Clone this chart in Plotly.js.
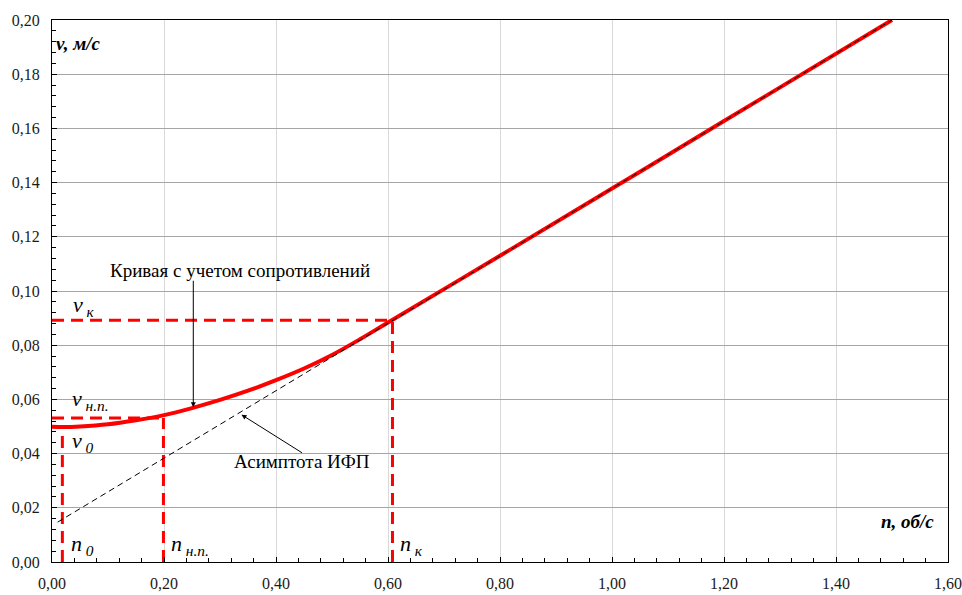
<!DOCTYPE html>
<html>
<head>
<meta charset="utf-8">
<script src="https://cdn.plot.ly/plotly-3.0.1.min.js"></script>
<style>
  html, body { margin: 0; padding: 0; background: #fff; }
  #chart { width: 962px; height: 595px; }
</style>
</head>
<body>
<div id="chart"></div>
<script>
// Curve accounting for resistances
const curveN = [0.00, 0.02, 0.05, 0.10, 0.15, 0.20, 0.25, 0.30, 0.35, 0.40, 0.45, 0.50, 0.55, 0.60, 0.80, 1.00, 1.20, 1.50];
const curveV = [0.0499, 0.0498, 0.0500, 0.0508, 0.0523, 0.0542, 0.0568, 0.0598, 0.0632, 0.0671, 0.0714, 0.0764, 0.0822, 0.0884, 0.1130, 0.1378, 0.1627, 0.2000];

// Asymptote (IFP)
const asymN = [0.010, 1.500];
const asymV = [0.0147, 0.2000];

// Characteristic points
const n0 = 0.0185, v0 = 0.0497;
const nNP = 0.199, vNP = 0.0531;
const nK = 0.608, vK = 0.0892;

// Axis ticks
const xTicks = [0, 0.2, 0.4, 0.6, 0.8, 1.0, 1.2, 1.4, 1.6];
const yTicks = [0, 0.02, 0.04, 0.06, 0.08, 0.10, 0.12, 0.14, 0.16, 0.18, 0.20];

const FONT = 'Liberation Serif';
const RED = '#ff0000';
const guide = { color: RED, width: 3, dash: '12px,7px' };

const traces = [
  { x: [n0, n0], y: [0, v0], mode: 'lines', line: guide, hoverinfo: 'skip' },
  { x: [nNP, nNP], y: [0, vNP], mode: 'lines', line: guide, hoverinfo: 'skip' },
  { x: [0, nNP], y: [vNP, vNP], mode: 'lines', line: guide, hoverinfo: 'skip' },
  { x: [nK, nK], y: [0, vK], mode: 'lines', line: guide, hoverinfo: 'skip' },
  { x: [0, nK], y: [vK, vK], mode: 'lines', line: guide, hoverinfo: 'skip' },
  { x: curveN, y: curveV, mode: 'lines', line: { color: RED, width: 4, shape: 'spline', smoothing: 1 } },
  { x: asymN, y: asymV, mode: 'lines', line: { color: '#000', width: 1, dash: '6px,4px' } }
];

function lbl(x, y, text, opts) {
  return Object.assign({
    x: x, y: y, xref: 'x', yref: 'y', text: text, showarrow: false,
    xanchor: 'left', yanchor: 'middle', borderpad: 0,
    font: { family: FONT, size: 22, color: '#000', style: 'italic' }
  }, opts || {});
}

const annotations = [
  lbl(0.3357, 0.1075, 'Кривая с учетом сопротивлений', { xanchor: 'center', font: { family: FONT, size: 19, color: '#000' } }),
  { x: 0.2523, y: 0.0571, xref: 'x', yref: 'y', text: '', showarrow: true, ax: 0, ay: -128,
    arrowhead: 2, arrowsize: 1, arrowwidth: 1, arrowcolor: '#000', standoff: 0 },
  lbl(0.4473, 0.0370, 'Асимптота ИФП', { xanchor: 'center', font: { family: FONT, size: 19, color: '#000' } }),
  { x: 0.3384, y: 0.05435, xref: 'x', yref: 'y', text: '', showarrow: true, ax: 62, ay: 39,
    arrowhead: 2, arrowsize: 1, arrowwidth: 1, arrowcolor: '#000', standoff: 0 },
  lbl(0.036, 0.0945, 'v<sub> к</sub>'),
  lbl(0.034, 0.0598, 'v<sub> н.п.</sub>'),
  lbl(0.034, 0.0444, 'v<sub> 0</sub>'),
  lbl(0.032, 0.0063, 'n<sub> 0</sub>'),
  lbl(0.211, 0.0063, 'n<sub> н.п.</sub>'),
  lbl(0.619, 0.0063, 'n<sub> к</sub>'),
  lbl(0.0054, 0.1914, '<b>v, м/с</b>', { font: { family: FONT, size: 19, color: '#000', style: 'italic' } }),
  lbl(1.5768, 0.0149, '<b>n, об/с</b>', { xanchor: 'right', font: { family: FONT, size: 19, color: '#000', style: 'italic' } })
];

const layout = {
  width: 962, height: 595, autosize: false,
  margin: { l: 52, r: 14, t: 20, b: 33, pad: 0 },
  paper_bgcolor: '#fff', plot_bgcolor: '#fff',
  showlegend: false,
  separators: ', ',
  font: { family: FONT, size: 16, color: '#1a1a1a' },
  xaxis: {
    range: [0, 1.6], tickvals: xTicks, tickformat: '.2f',
    showgrid: true, gridcolor: '#d9d9d9', gridwidth: 1,
    showline: true, linecolor: '#000', linewidth: 1, mirror: true,
    zeroline: false, ticks: 'inside', ticklen: 5, tickcolor: '#000',
    ticklabelstandoff: 7,
    tickfont: { family: FONT, size: 16, color: '#1a1a1a' },
    minor: { dtick: 0.04, ticks: 'inside', ticklen: 4, tickcolor: '#000', showgrid: false },
    fixedrange: true
  },
  yaxis: {
    range: [0, 0.2], tickvals: yTicks, tickformat: '.2f',
    showgrid: true, gridcolor: '#a6a6a6', gridwidth: 1,
    showline: true, linecolor: '#000', linewidth: 1, mirror: true,
    zeroline: false, ticks: 'inside', ticklen: 5, tickcolor: '#000',
    ticklabelstandoff: 8,
    tickfont: { family: FONT, size: 16, color: '#1a1a1a' },
    minor: { dtick: 0.004, ticks: 'inside', ticklen: 4, tickcolor: '#000', showgrid: false },
    fixedrange: true
  },
  annotations: annotations
};

Plotly.newPlot('chart', traces, layout, { displayModeBar: false, staticPlot: true });
</script>
</body>
</html>
